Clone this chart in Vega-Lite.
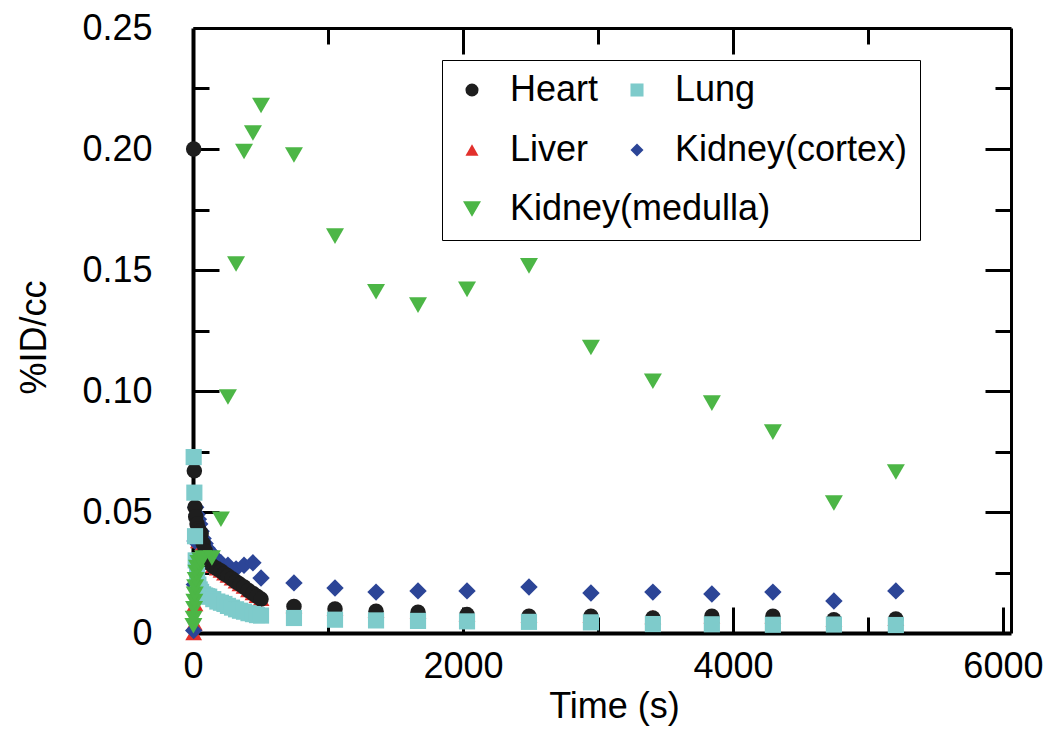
{
  "$schema": "https://vega.github.io/schema/vega-lite/v6.json",
  "width": 818,
  "height": 605,
  "autosize": {"type": "none"},
  "padding": {"left": 193, "top": 28, "right": 39, "bottom": 110},
  "background": "white",
  "config": {
    "view": {"stroke": null},
    "font": "Liberation Sans",
    "axis": {"grid": false, "tickColor": "black", "domainColor": "black", "labelColor": "black", "titleColor": "black", "labelFont": "Liberation Sans", "titleFont": "Liberation Sans", "titleFontWeight": "normal"},
    "legend": {"labelFont": "Liberation Sans"}
  },
  "datasets": {
    "pts": [
      {"organ": "Liver", "time": 5, "value": 0.000},
      {"organ": "Liver", "time": 10, "value": 0.004},
      {"organ": "Liver", "time": 15, "value": 0.012},
      {"organ": "Liver", "time": 20, "value": 0.022},
      {"organ": "Liver", "time": 30, "value": 0.032},
      {"organ": "Liver", "time": 40, "value": 0.038},
      {"organ": "Liver", "time": 50, "value": 0.040},
      {"organ": "Liver", "time": 60, "value": 0.040},
      {"organ": "Liver", "time": 75, "value": 0.037},
      {"organ": "Liver", "time": 90, "value": 0.034},
      {"organ": "Liver", "time": 105, "value": 0.031},
      {"organ": "Liver", "time": 120, "value": 0.029},
      {"organ": "Liver", "time": 150, "value": 0.0278},
      {"organ": "Liver", "time": 180, "value": 0.0268},
      {"organ": "Liver", "time": 207, "value": 0.0258},
      {"organ": "Liver", "time": 233, "value": 0.0247},
      {"organ": "Liver", "time": 259, "value": 0.0238},
      {"organ": "Liver", "time": 289, "value": 0.0226},
      {"organ": "Liver", "time": 319, "value": 0.0214},
      {"organ": "Liver", "time": 348, "value": 0.0203},
      {"organ": "Liver", "time": 378, "value": 0.0192},
      {"organ": "Liver", "time": 411, "value": 0.0178},
      {"organ": "Liver", "time": 444, "value": 0.0165},
      {"organ": "Liver", "time": 474, "value": 0.0154},
      {"organ": "Liver", "time": 504, "value": 0.0142},
      {"organ": "Liver", "time": 748, "value": 0.0112},
      {"organ": "Liver", "time": 1052, "value": 0.0101},
      {"organ": "Liver", "time": 1356, "value": 0.0092},
      {"organ": "Liver", "time": 1667, "value": 0.0088},
      {"organ": "Liver", "time": 2030, "value": 0.0078},
      {"organ": "Liver", "time": 2489, "value": 0.0071},
      {"organ": "Liver", "time": 2948, "value": 0.0071},
      {"organ": "Liver", "time": 3407, "value": 0.0066},
      {"organ": "Liver", "time": 3844, "value": 0.0069},
      {"organ": "Liver", "time": 4296, "value": 0.0069},
      {"organ": "Liver", "time": 4748, "value": 0.0056},
      {"organ": "Liver", "time": 5207, "value": 0.0059},

      {"organ": "Kidney(cortex)", "time": 5, "value": 0.001},
      {"organ": "Kidney(cortex)", "time": 10, "value": 0.020},
      {"organ": "Kidney(cortex)", "time": 15, "value": 0.038},
      {"organ": "Kidney(cortex)", "time": 20, "value": 0.052},
      {"organ": "Kidney(cortex)", "time": 30, "value": 0.049},
      {"organ": "Kidney(cortex)", "time": 40, "value": 0.047},
      {"organ": "Kidney(cortex)", "time": 50, "value": 0.045},
      {"organ": "Kidney(cortex)", "time": 60, "value": 0.042},
      {"organ": "Kidney(cortex)", "time": 75, "value": 0.039},
      {"organ": "Kidney(cortex)", "time": 90, "value": 0.037},
      {"organ": "Kidney(cortex)", "time": 105, "value": 0.035},
      {"organ": "Kidney(cortex)", "time": 120, "value": 0.034},
      {"organ": "Kidney(cortex)", "time": 150, "value": 0.032},
      {"organ": "Kidney(cortex)", "time": 180, "value": 0.030},
      {"organ": "Kidney(cortex)", "time": 207, "value": 0.029},
      {"organ": "Kidney(cortex)", "time": 259, "value": 0.028},
      {"organ": "Kidney(cortex)", "time": 319, "value": 0.0265},
      {"organ": "Kidney(cortex)", "time": 378, "value": 0.028},
      {"organ": "Kidney(cortex)", "time": 444, "value": 0.029},
      {"organ": "Kidney(cortex)", "time": 504, "value": 0.0227},
      {"organ": "Kidney(cortex)", "time": 748, "value": 0.0207},
      {"organ": "Kidney(cortex)", "time": 1052, "value": 0.0186},
      {"organ": "Kidney(cortex)", "time": 1356, "value": 0.0169},
      {"organ": "Kidney(cortex)", "time": 1667, "value": 0.0174},
      {"organ": "Kidney(cortex)", "time": 2030, "value": 0.0174},
      {"organ": "Kidney(cortex)", "time": 2489, "value": 0.019},
      {"organ": "Kidney(cortex)", "time": 2948, "value": 0.0165},
      {"organ": "Kidney(cortex)", "time": 3407, "value": 0.0169},
      {"organ": "Kidney(cortex)", "time": 3844, "value": 0.0161},
      {"organ": "Kidney(cortex)", "time": 4296, "value": 0.0169},
      {"organ": "Kidney(cortex)", "time": 4748, "value": 0.0132},
      {"organ": "Kidney(cortex)", "time": 5207, "value": 0.0174},

      {"organ": "Heart", "time": 5, "value": 0.200},
      {"organ": "Heart", "time": 10, "value": 0.067},
      {"organ": "Heart", "time": 15, "value": 0.052},
      {"organ": "Heart", "time": 20, "value": 0.048},
      {"organ": "Heart", "time": 30, "value": 0.045},
      {"organ": "Heart", "time": 40, "value": 0.043},
      {"organ": "Heart", "time": 50, "value": 0.042},
      {"organ": "Heart", "time": 60, "value": 0.041},
      {"organ": "Heart", "time": 75, "value": 0.037},
      {"organ": "Heart", "time": 90, "value": 0.034},
      {"organ": "Heart", "time": 105, "value": 0.031},
      {"organ": "Heart", "time": 120, "value": 0.029},
      {"organ": "Heart", "time": 150, "value": 0.0275},
      {"organ": "Heart", "time": 180, "value": 0.0265},
      {"organ": "Heart", "time": 207, "value": 0.0256},
      {"organ": "Heart", "time": 233, "value": 0.0245},
      {"organ": "Heart", "time": 259, "value": 0.0236},
      {"organ": "Heart", "time": 289, "value": 0.0224},
      {"organ": "Heart", "time": 319, "value": 0.0212},
      {"organ": "Heart", "time": 348, "value": 0.0201},
      {"organ": "Heart", "time": 378, "value": 0.019},
      {"organ": "Heart", "time": 411, "value": 0.0176},
      {"organ": "Heart", "time": 444, "value": 0.0163},
      {"organ": "Heart", "time": 474, "value": 0.0152},
      {"organ": "Heart", "time": 504, "value": 0.014},
      {"organ": "Heart", "time": 748, "value": 0.011},
      {"organ": "Heart", "time": 1052, "value": 0.0099},
      {"organ": "Heart", "time": 1356, "value": 0.0090},
      {"organ": "Heart", "time": 1667, "value": 0.0086},
      {"organ": "Heart", "time": 2030, "value": 0.0076},
      {"organ": "Heart", "time": 2489, "value": 0.0069},
      {"organ": "Heart", "time": 2948, "value": 0.0069},
      {"organ": "Heart", "time": 3407, "value": 0.0062},
      {"organ": "Heart", "time": 3844, "value": 0.0069},
      {"organ": "Heart", "time": 4296, "value": 0.0069},
      {"organ": "Heart", "time": 4748, "value": 0.0055},
      {"organ": "Heart", "time": 5207, "value": 0.0058},

      {"organ": "Lung", "time": 5, "value": 0.0727},
      {"organ": "Lung", "time": 10, "value": 0.058},
      {"organ": "Lung", "time": 15, "value": 0.040},
      {"organ": "Lung", "time": 20, "value": 0.030},
      {"organ": "Lung", "time": 30, "value": 0.024},
      {"organ": "Lung", "time": 40, "value": 0.020},
      {"organ": "Lung", "time": 50, "value": 0.018},
      {"organ": "Lung", "time": 60, "value": 0.017},
      {"organ": "Lung", "time": 75, "value": 0.016},
      {"organ": "Lung", "time": 90, "value": 0.0155},
      {"organ": "Lung", "time": 105, "value": 0.0152},
      {"organ": "Lung", "time": 120, "value": 0.015},
      {"organ": "Lung", "time": 150, "value": 0.014},
      {"organ": "Lung", "time": 180, "value": 0.013},
      {"organ": "Lung", "time": 207, "value": 0.0125},
      {"organ": "Lung", "time": 233, "value": 0.012},
      {"organ": "Lung", "time": 259, "value": 0.0112},
      {"organ": "Lung", "time": 289, "value": 0.0105},
      {"organ": "Lung", "time": 319, "value": 0.0098},
      {"organ": "Lung", "time": 348, "value": 0.0092},
      {"organ": "Lung", "time": 378, "value": 0.0088},
      {"organ": "Lung", "time": 411, "value": 0.0082},
      {"organ": "Lung", "time": 444, "value": 0.0078},
      {"organ": "Lung", "time": 474, "value": 0.0074},
      {"organ": "Lung", "time": 504, "value": 0.0072},
      {"organ": "Lung", "time": 748, "value": 0.0062},
      {"organ": "Lung", "time": 1052, "value": 0.0055},
      {"organ": "Lung", "time": 1356, "value": 0.0052},
      {"organ": "Lung", "time": 1667, "value": 0.005},
      {"organ": "Lung", "time": 2030, "value": 0.0048},
      {"organ": "Lung", "time": 2489, "value": 0.0046},
      {"organ": "Lung", "time": 2948, "value": 0.0044},
      {"organ": "Lung", "time": 3407, "value": 0.0037},
      {"organ": "Lung", "time": 3844, "value": 0.0036},
      {"organ": "Lung", "time": 4296, "value": 0.0034},
      {"organ": "Lung", "time": 4748, "value": 0.0035},
      {"organ": "Lung", "time": 5207, "value": 0.0033},

      {"organ": "Kidney(medulla)", "time": 3, "value": 0.003},
      {"organ": "Kidney(medulla)", "time": 5, "value": 0.006},
      {"organ": "Kidney(medulla)", "time": 8, "value": 0.010},
      {"organ": "Kidney(medulla)", "time": 10, "value": 0.013},
      {"organ": "Kidney(medulla)", "time": 13, "value": 0.016},
      {"organ": "Kidney(medulla)", "time": 16, "value": 0.019},
      {"organ": "Kidney(medulla)", "time": 20, "value": 0.022},
      {"organ": "Kidney(medulla)", "time": 25, "value": 0.025},
      {"organ": "Kidney(medulla)", "time": 30, "value": 0.027},
      {"organ": "Kidney(medulla)", "time": 40, "value": 0.029},
      {"organ": "Kidney(medulla)", "time": 55, "value": 0.030},
      {"organ": "Kidney(medulla)", "time": 75, "value": 0.031},
      {"organ": "Kidney(medulla)", "time": 140, "value": 0.031},
      {"organ": "Kidney(medulla)", "time": 207, "value": 0.047},
      {"organ": "Kidney(medulla)", "time": 259, "value": 0.0975},
      {"organ": "Kidney(medulla)", "time": 319, "value": 0.1525},
      {"organ": "Kidney(medulla)", "time": 378, "value": 0.199},
      {"organ": "Kidney(medulla)", "time": 444, "value": 0.2066},
      {"organ": "Kidney(medulla)", "time": 504, "value": 0.218},
      {"organ": "Kidney(medulla)", "time": 748, "value": 0.1975},
      {"organ": "Kidney(medulla)", "time": 1052, "value": 0.164},
      {"organ": "Kidney(medulla)", "time": 1356, "value": 0.141},
      {"organ": "Kidney(medulla)", "time": 1667, "value": 0.1355},
      {"organ": "Kidney(medulla)", "time": 2030, "value": 0.142},
      {"organ": "Kidney(medulla)", "time": 2489, "value": 0.1517},
      {"organ": "Kidney(medulla)", "time": 2948, "value": 0.118},
      {"organ": "Kidney(medulla)", "time": 3407, "value": 0.104},
      {"organ": "Kidney(medulla)", "time": 3844, "value": 0.095},
      {"organ": "Kidney(medulla)", "time": 4296, "value": 0.083},
      {"organ": "Kidney(medulla)", "time": 4748, "value": 0.0537},
      {"organ": "Kidney(medulla)", "time": 5207, "value": 0.0665}
    ]
  },
  "data": {"name": "pts"},
  "resolve": {"axis": {"x": "independent", "y": "independent"}},
  "layer": [
    {
      "mark": {"type": "point", "filled": true, "opacity": 1, "strokeWidth": 0, "clip": false},
      "encoding": {
        "x": {
          "field": "time", "type": "quantitative",
          "scale": {"domain": [0, 6060], "nice": false, "zero": false},
          "axis": {"orient": "bottom", "values": [0, 2000, 4000, 6000], "tickSize": -26, "tickWidth": 3, "domainWidth": 4, "labelFontSize": 36, "labelPadding": 42, "labelFlush": false, "format": "d", "title": "Time (s)", "titleFontSize": 36, "titleX": 421, "titleY": 56}
        },
        "y": {
          "field": "value", "type": "quantitative",
          "scale": {"domain": [0, 0.25], "nice": false, "zero": false},
          "axis": {"orient": "left", "values": [0, 0.05, 0.1, 0.15, 0.2, 0.25], "tickSize": -26, "tickWidth": 3, "domainWidth": 4, "labelFontSize": 36, "labelPadding": 67, "labelFlush": false, "labelExpr": "datum.value == 0 ? '0' : format(datum.value, '.2f')", "title": "%ID/cc", "titleFontSize": 36, "titleX": -140, "titleY": 309}
        },
        "color": {
          "field": "organ", "type": "nominal",
          "scale": {"domain": ["Heart", "Lung", "Liver", "Kidney(cortex)", "Kidney(medulla)"], "range": ["#1e1e1e", "#7ecbcb", "#e2302c", "#2c4597", "#4cb646"]},
          "legend": {"title": null, "orient": "none", "legendX": 249, "legendY": 32, "columns": 2, "direction": "horizontal", "columnPadding": 20, "rowPadding": 24, "padding": 12, "strokeColor": "black", "labelFontSize": 36, "labelLimit": 500, "labelColor": "black", "labelOffset": 20, "symbolSize": 170, "symbolStrokeWidth": 0, "zindex": 0,
            "labelExpr": "datum.label == 'Kidney(medulla)' ? ' ' : datum.label",
            "encode": {
              "legend": {"strokeWidth": {"value": 3}},
              "symbols": {"opacity": {"condition": {"test": "datum.value == 'Kidney(medulla)'", "value": 0}, "value": 1}}
            }}
        },
        "shape": {
          "field": "organ", "type": "nominal",
          "scale": {"domain": ["Heart", "Lung", "Liver", "Kidney(cortex)", "Kidney(medulla)"], "range": ["circle", "square", "triangle-up", "diamond", "triangle-down"]}
        },
        "size": {
          "field": "organ", "type": "nominal",
          "scale": {"domain": ["Kidney(medulla)", "Kidney(cortex)", "Liver", "Lung", "Heart"], "range": [324, 240, 324, 289, 289]},
          "legend": {"title": null, "orient": "none", "legendX": 249, "legendY": 151, "values": ["Kidney(medulla)"], "padding": 12, "labelFontSize": 36, "labelLimit": 500, "labelColor": "black", "labelOffset": 20, "zindex": 1,
            "symbolType": "triangle-down", "symbolFillColor": "#4cb646", "symbolStrokeColor": "#4cb646", "symbolStrokeWidth": 0, "symbolOpacity": 1, "symbolSize": 170}
        }
      }
    },
    {
      "mark": {"type": "point", "opacity": 0},
      "encoding": {
        "x": {"field": "time", "type": "quantitative", "scale": {"domain": [0, 6060], "nice": false, "zero": false},
          "axis": {"orient": "bottom", "values": [1000, 3000, 5000], "tickSize": -16, "tickWidth": 3, "labels": false, "domain": false, "title": null}},
        "y": {"field": "value", "type": "quantitative", "scale": {"domain": [0, 0.25], "nice": false, "zero": false},
          "axis": {"orient": "left", "values": [0.025, 0.075, 0.125, 0.175, 0.225], "tickSize": -16, "tickWidth": 3, "labels": false, "domain": false, "title": null}}
      }
    },
    {
      "mark": {"type": "point", "opacity": 0},
      "encoding": {
        "x": {"field": "time", "type": "quantitative", "scale": {"domain": [0, 6060], "nice": false, "zero": false},
          "axis": {"orient": "top", "values": [2000, 4000], "tickSize": -26, "tickWidth": 3, "labels": false, "domain": true, "domainWidth": 3, "title": null}},
        "y": {"field": "value", "type": "quantitative", "scale": {"domain": [0, 0.25], "nice": false, "zero": false},
          "axis": {"orient": "right", "values": [0.05, 0.1, 0.15, 0.2], "tickSize": -26, "tickWidth": 3, "labels": false, "domain": true, "domainWidth": 3, "title": null}}
      }
    },
    {
      "mark": {"type": "point", "opacity": 0},
      "encoding": {
        "x": {"field": "time", "type": "quantitative", "scale": {"domain": [0, 6060], "nice": false, "zero": false},
          "axis": {"orient": "top", "values": [1000, 3000, 5000], "tickSize": -16, "tickWidth": 3, "labels": false, "domain": false, "title": null}},
        "y": {"field": "value", "type": "quantitative", "scale": {"domain": [0, 0.25], "nice": false, "zero": false},
          "axis": {"orient": "right", "values": [0.025, 0.075, 0.125, 0.175, 0.225], "tickSize": -16, "tickWidth": 3, "labels": false, "domain": false, "title": null}}
      }
    }
  ]
}
